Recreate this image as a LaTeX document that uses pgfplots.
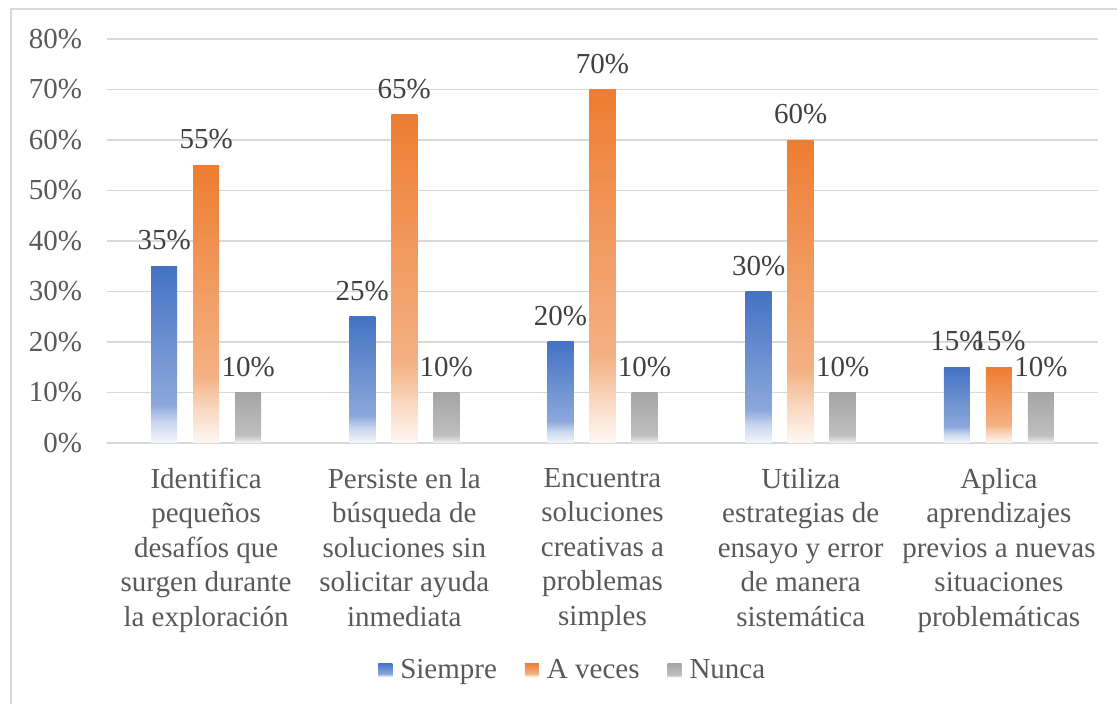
\documentclass[border=0pt]{standalone}
\usepackage{fontspec}
\setmainfont{Liberation Serif}
\usepackage{pgfplots}
\pgfplotsset{compat=1.18}

\definecolor{sblue}{HTML}{4472C4}
\definecolor{sorange}{HTML}{ED7D31}
\definecolor{sgray}{HTML}{A5A5A5}
\definecolor{txt}{HTML}{595959}
\definecolor{lbl}{HTML}{404040}
\definecolor{gridc}{HTML}{D9D9D9}

% gradient stops (bottom fades to white, as in the Excel chart)
\colorlet{bA}{sblue!5}\colorlet{bB}{sblue!30}\colorlet{bC}{sblue!62}
\colorlet{oA}{sorange!6}\colorlet{oB}{sorange!30}\colorlet{oC}{sorange!60}
\colorlet{gA}{sgray!10}\colorlet{gB}{sgray!45}\colorlet{gC}{sgray!72}

\pgfdeclareverticalshading{gblue}{100bp}{color(0bp)=(bA); color(25bp)=(bA); color(31bp)=(bB); color(36bp)=(bC); color(75bp)=(sblue); color(100bp)=(sblue)}
\pgfdeclareverticalshading{gorange}{100bp}{color(0bp)=(oA); color(25bp)=(oA); color(31bp)=(oB); color(37bp)=(oC); color(75bp)=(sorange); color(100bp)=(sorange)}
\pgfdeclareverticalshading{ggray}{100bp}{color(0bp)=(gA); color(25bp)=(gA); color(29bp)=(gB); color(33bp)=(gC); color(75bp)=(sgray); color(100bp)=(sgray)}

% one bar per plot, so that each bar gets its own gradient
\newcommand\sbar[4]{\addplot[forget plot, draw=none, shade, shading=#1, bar shift=#2] coordinates {(#3,#4)};}

\begin{document}
\begin{tikzpicture}
\useasboundingbox (-53.5pt,-130.5pt) rectangle (505pt,221.5pt);
\draw[gridc, line width=1pt] (-48pt,-140pt) rectangle (515pt,217pt);
\begin{axis}[
  at={(0,0)}, anchor=south west,
  scale only axis, width=495.5pt, height=202pt,
  ybar, bar width=13pt,
  xmin=-0.5, xmax=4.5, ymin=0, ymax=80,
  xtick={0,1,2,3,4},
  xticklabels={
    {Identifica\\pequeños\\desafíos que\\surgen durante\\la exploración},
    {Persiste en la\\búsqueda de\\soluciones sin\\solicitar ayuda\\inmediata},
    {Encuentra\\soluciones\\creativas a\\problemas\\simples},
    {Utiliza\\estrategias de\\ensayo y error\\de manera\\sistemática},
    {Aplica\\aprendizajes\\previos a nuevas\\situaciones\\problemáticas}},
  ytick={0,10,...,80},
  yticklabels={0\%,10\%,20\%,30\%,40\%,50\%,60\%,70\%,80\%},
  major tick length=0pt,
  axis line style={draw=none},
  ymajorgrids, major grid style={gridc, line width=0.9pt},
  tick label style={font=\fontsize{14.5}{17.25}\selectfont, text=txt},
  xticklabel style={align=center, yshift=-9pt},
  yticklabel style={xshift=-9pt},
  /pgf/number format/assume math mode=true,
  nodes near coords={\pgfmathprintnumber{\pgfplotspointmeta}\%},
  nodes near coords style={font=\fontsize{14.5}{17}\selectfont, text=lbl, yshift=4.5pt},
  legend style={draw=none, at={(0.471,-0.562)}, anchor=center, legend columns=3,
    font=\fontsize{14.5}{17}\selectfont, text=txt,
    /tikz/every odd column/.append style={column sep=2pt},
    /tikz/every even column/.append style={column sep=12pt}},
  legend image code/.code={\path[#1, draw=none] (0pt,-3.5pt) rectangle (7pt,3.5pt);},
]
% Siempre
\sbar{gblue}{-21pt}{0}{35}
\sbar{gblue}{-21pt}{1}{25}
\sbar{gblue}{-21pt}{2}{20}
\sbar{gblue}{-21pt}{3}{30}
\sbar{gblue}{-21pt}{4}{15}
% A veces
\sbar{gorange}{0pt}{0}{55}
\sbar{gorange}{0pt}{1}{65}
\sbar{gorange}{0pt}{2}{70}
\sbar{gorange}{0pt}{3}{60}
\sbar{gorange}{0pt}{4}{15}
% Nunca
\sbar{ggray}{21pt}{0}{10}
\sbar{ggray}{21pt}{1}{10}
\sbar{ggray}{21pt}{2}{10}
\sbar{ggray}{21pt}{3}{10}
\sbar{ggray}{21pt}{4}{10}
\addlegendimage{shade, shading=gblue}\addlegendentry{Siempre}
\addlegendimage{shade, shading=gorange}\addlegendentry{A veces}
\addlegendimage{shade, shading=ggray}\addlegendentry{Nunca}
\end{axis}
\end{tikzpicture}
\end{document}
